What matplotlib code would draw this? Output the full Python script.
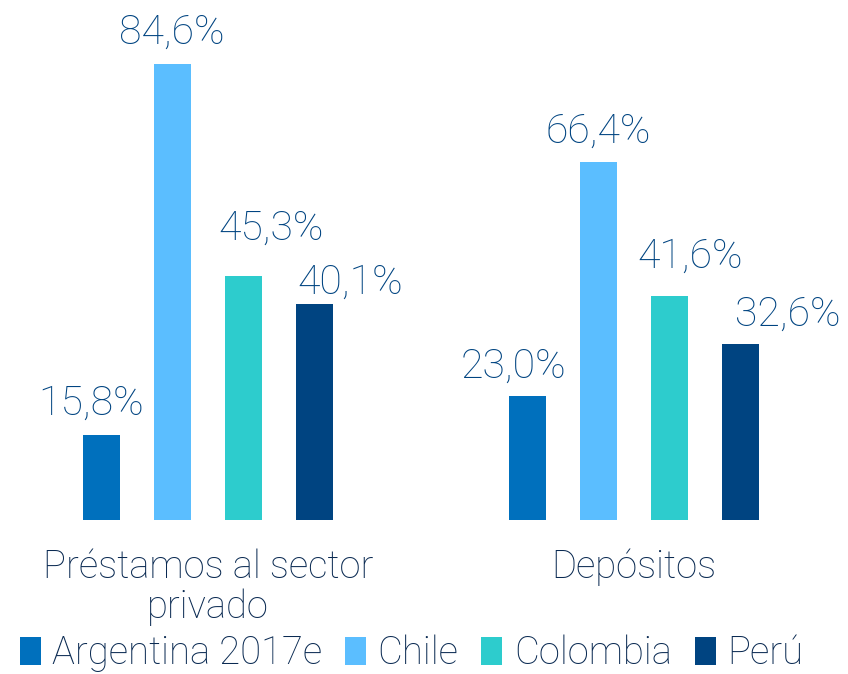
import matplotlib.pyplot as plt
from matplotlib.patches import Patch
import numpy as np

# Data
categories = ['Préstamos al sector\nprivado', 'Depósitos']
countries = ['Argentina 2017e', 'Chile', 'Colombia', 'Perú']
argentina = [15.8, 23.0]
chile = [84.6, 66.4]
colombia = [45.3, 41.6]
peru = [40.1, 32.6]

colors = ['#0070BD', '#5BBEFF', '#2DCCCD', '#004481']
label_color = '#004481'
text_color = '#0A2A52'

# label nudges in pixels (dx, gap above bar), same order as bars drawn
nudges = [[(-10, 20), (-14, 18)],
          [(-1, 20), (0, 19)],
          [(28, 36), (21, 28)],
          [(36, 10), (47, 19)]]

plt.rcParams['font.family'] = ['Roboto', 'DejaVu Sans']
plt.rcParams['font.weight'] = 'light'

fig = plt.figure(figsize=(8.48, 6.74), dpi=100)
ax = fig.add_axes([0, 154 / 674, 1, 520 / 674])

group_x = np.array([0, 6])
offsets = [-1.5, -0.5, 0.5, 1.5]
series = [argentina, chile, colombia, peru]
px = 0.72  # pixels to points at dpi 100

for i, vals in enumerate(series):
    xs = group_x + offsets[i]
    ax.bar(xs, vals, width=0.52, color=colors[i])
    for j, (x, v) in enumerate(zip(xs, vals)):
        dx, dy = nudges[i][j]
        ax.annotate(f'{v:.1f}%'.replace('.', ','), (x, v),
                    xytext=(dx * px, dy * px), textcoords='offset points',
                    ha='center', va='baseline', fontsize=29.5,
                    color=label_color)

ax.set_xlim(-208 / 71, 640 / 71)
ax.set_ylim(0, 520 / 5.39)
ax.axis('off')

# va='baseline' anchors the last line, so push multi-line labels down
for x, cat in zip(group_x, categories):
    n_extra = cat.count('\n')
    ax.annotate(cat, (x, 0), xytext=(0, -(58 + 40 * n_extra) * px),
                textcoords='offset points', ha='center', va='baseline',
                fontsize=27.5, color=text_color, linespacing=1.1)

handles = [Patch(facecolor=c, edgecolor='none') for c in colors]
fig.legend(handles, countries, loc='lower center', ncol=4, frameon=False,
           bbox_to_anchor=(0.485, -0.048), handlelength=0.55,
           handleheight=0.75, handletextpad=0.3, columnspacing=0.6,
           labelcolor=text_color, prop={'size': 27.5, 'weight': 'light'})

fig.savefig('out.png', dpi=100)
